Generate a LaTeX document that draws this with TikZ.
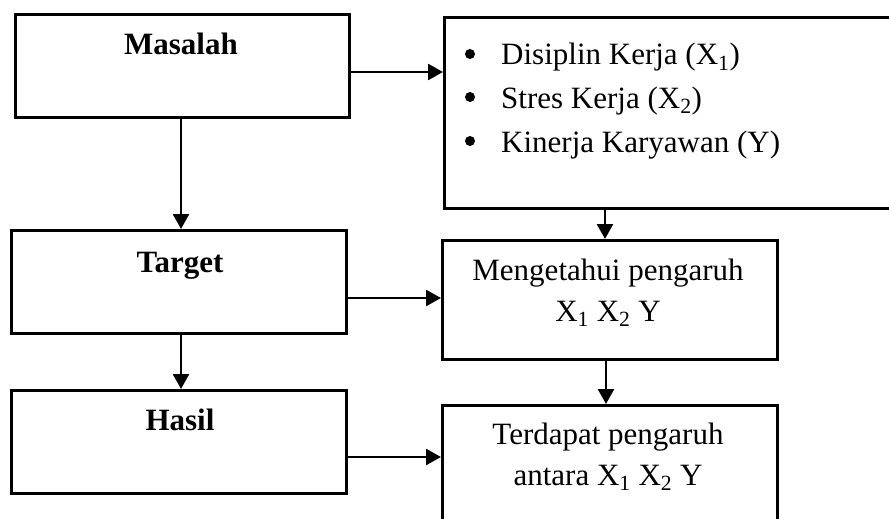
\documentclass[tikz,border=0pt]{standalone}
\usepackage{fontspec}
\setmainfont{Liberation Serif}
\usetikzlibrary{arrows.meta}
\tikzset{
  box/.style={draw, line width=2.6pt, inner sep=0pt, anchor=north west},
  lbl/.style={font=\fontsize{31}{41}\selectfont, inner sep=0pt, anchor=base},
  ttl/.style={font=\fontsize{31}{41}\selectfont\bfseries, inner sep=0pt, anchor=base},
  dot/.style={circle, fill, inner sep=0pt, minimum size=10pt},
  arr/.style={line width=2.6pt, -{Triangle[length=15pt,width=16pt]}}
}
\begin{document}
\begin{tikzpicture}[x=1pt,y=-1pt]
\useasboundingbox (0,0) rectangle (889,519);
\clip (0,0) rectangle (889,519);
% boxes
\node[box, minimum width=334pt, minimum height=103pt] (mas) at (14,13) {};
\node[box, minimum width=335pt, minimum height=103pt] (tar) at (10,229) {};
\node[box, minimum width=335pt, minimum height=103pt] (has) at (10,389) {};
\node[box, minimum width=470pt, minimum height=191pt] (var) at (443,16) {};
\node[box, minimum width=335pt, minimum height=119pt] (men) at (441,239) {};
\node[box, minimum width=335pt, minimum height=140pt] (ter) at (441,404) {};
% titles
\node[ttl] (tmas) at (181,55) {Masalah};
\node[ttl] (ttar) at (180,272) {Target};
\node[ttl] (thas) at (180,430) {Hasil};
% bullet list
\node[dot] (b1) at (470,54) {};
\node[dot] (b2) at (470,97) {};
\node[dot] (b3) at (470,141) {};
\node[lbl, anchor=base west] (v1) at (501,65) {Disiplin Kerja (X\textsubscript{1})};
\node[lbl, anchor=base west] (v2) at (501,108) {Stres Kerja (X\textsubscript{2})};
\node[lbl, anchor=base west] (v3) at (501,152) {Kinerja Karyawan (Y)};
% box texts
\node[lbl, align=center] (tmen) at (608,321) {Mengetahui pengaruh\\X\textsubscript{1} X\textsubscript{2} Y};
\node[lbl, align=center] (tter) at (608,485) {Terdapat pengaruh\\antara X\textsubscript{1} X\textsubscript{2} Y};
% connectors
\draw[arr] (mas.east |- 0,72) -- (var.west |- 0,72);
\draw[arr] (tar.east |- 0,298) -- (men.west |- 0,298);
\draw[arr] (has.east |- 0,457) -- (ter.west |- 0,457);
\draw[arr] (mas.south -| 181,0) -- (tar.north -| 181,0);
\draw[arr] (tar.south -| 181,0) -- (has.north -| 181,0);
\draw[arr] (var.south -| 605,0) -- (men.north -| 605,0);
\draw[arr] (men.south -| 606,0) -- (ter.north -| 606,0);
\end{tikzpicture}
\end{document}
